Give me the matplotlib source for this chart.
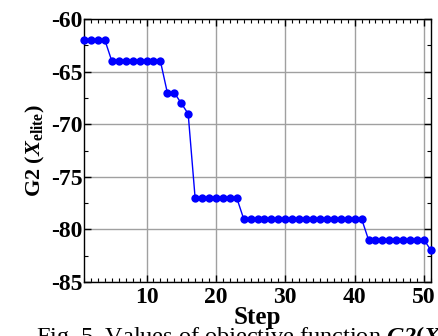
import matplotlib
matplotlib.use("Agg")
import matplotlib.pyplot as plt
from matplotlib.ticker import MultipleLocator

plt.rcParams['font.family'] = ['Liberation Serif', 'DejaVu Serif']
plt.rcParams['axes.unicode_minus'] = False
plt.rcParams['mathtext.fontset'] = 'custom'
plt.rcParams['mathtext.rm'] = 'Liberation Serif'
plt.rcParams['mathtext.bf'] = 'Liberation Serif:bold'
plt.rcParams['mathtext.it'] = 'Liberation Serif:italic'
plt.rcParams['mathtext.bfit'] = 'Liberation Serif:bold:italic'

steps = list(range(1, 52))
g2_values = ([-62] * 4 + [-64] * 8 + [-67, -67, -68, -69] + [-77] * 7
             + [-79] * 18 + [-81] * 9 + [-82])
x_ticks = [10, 20, 30, 40, 50]
y_ticks = [-85, -80, -75, -70, -65, -60]

fig = plt.figure(figsize=(4.38, 3.36), dpi=100)
ax = fig.add_axes([0.192, 0.161, 0.792, 0.782])

ax.plot(steps, g2_values, color='#0000ff', lw=1.0, marker='o', markersize=6,
        markeredgewidth=0, zorder=3, clip_on=False)

ax.set_xlim(1, 51)
ax.set_ylim(-85, -60)
ax.set_xticks(x_ticks)
ax.set_yticks(y_ticks)
ax.xaxis.set_minor_locator(MultipleLocator(1))
ax.yaxis.set_minor_locator(MultipleLocator(2.5))
ax.grid(True, which='major', color='#a0a0a0', lw=1.0)
ax.set_axisbelow(True)
ax.tick_params(which='both', direction='in', top=True, right=True, color='black')
ax.tick_params(which='major', length=5, width=1, labelsize=17)
ax.tick_params(axis='x', which='major', pad=4)
ax.tick_params(axis='y', which='major', pad=1)
ax.tick_params(which='minor', length=3, width=0.8)
for lab in ax.get_xticklabels() + ax.get_yticklabels():
    lab.set_fontweight('bold')
for s in ax.spines.values():
    s.set_linewidth(1.0)

ax.set_xlabel('Step', fontsize=18, fontweight='bold', labelpad=-2)
ax.set_ylabel(r'$\mathbf{G2}\ \mathbf{(}\mathbfit{X}_{\mathbf{elite}}\mathbf{)}$',
              fontsize=16, labelpad=3)

fig.text(0.083, -0.02,
         r'Fig. 5. Values of objective function $\mathbfit{G2}$$\mathbf{(}\mathbfit{X}$',
         fontsize=17.5, ha='left', va='baseline')

fig.savefig('out.png', dpi=100)
